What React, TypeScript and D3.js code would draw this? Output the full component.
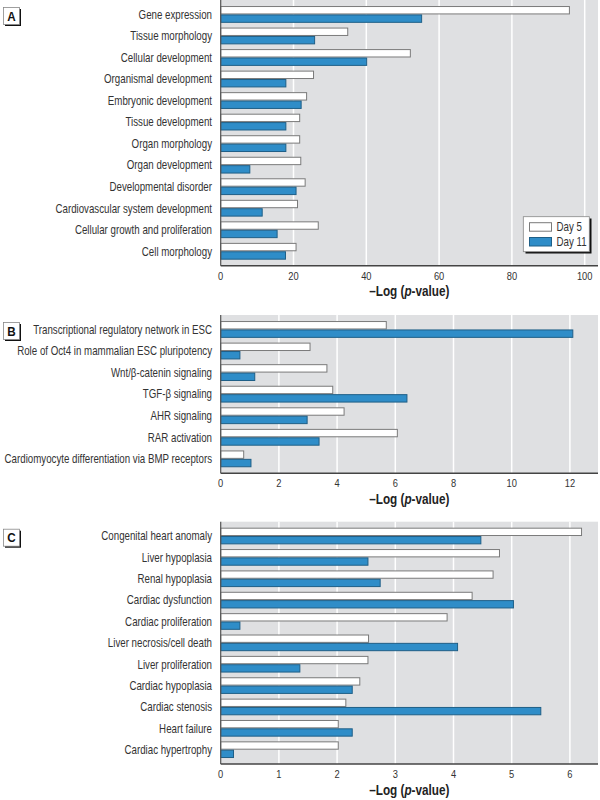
import React from "react";
import * as d3 from "d3";

const catsA = [
  "Gene expression",
  "Tissue morphology",
  "Cellular development",
  "Organismal development",
  "Embryonic development",
  "Tissue development",
  "Organ morphology",
  "Organ development",
  "Developmental disorder",
  "Cardiovascular system development",
  "Cellular growth and proliferation",
  "Cell morphology",
];
const day5A = [95.8, 34.9, 52.1, 25.5, 23.6, 21.7, 21.7, 22.0, 23.2, 21.1, 26.8, 20.7];
const day11A = [55.2, 25.8, 40.1, 17.9, 22.1, 17.9, 17.9, 8.0, 20.7, 11.4, 15.5, 17.8];
const ticksA = [0, 20, 40, 60, 80, 100];

const catsB = [
  "Transcriptional regulatory network in ESC",
  "Role of Oct4 in mammalian ESC pluripotency",
  "Wnt/β-catenin signaling",
  "TGF-β signaling",
  "AHR signaling",
  "RAR activation",
  "Cardiomyocyte differentiation via BMP receptors",
];
const day5B = [5.69, 3.07, 3.65, 3.85, 4.24, 6.07, 0.79];
const day11B = [12.1, 0.66, 1.17, 6.4, 2.97, 3.38, 1.04];
const ticksB = [0, 2, 4, 6, 8, 10, 12];

const catsC = [
  "Congenital heart anomaly",
  "Liver hypoplasia",
  "Renal hypoplasia",
  "Cardiac dysfunction",
  "Cardiac proliferation",
  "Liver necrosis/cell death",
  "Liver proliferation",
  "Cardiac hypoplasia",
  "Cardiac stenosis",
  "Heart failure",
  "Cardiac hypertrophy",
];
const day5C = [6.2, 4.79, 4.68, 4.32, 3.89, 2.54, 2.53, 2.39, 2.15, 2.02, 2.02];
const day11C = [4.47, 2.53, 2.74, 5.03, 0.33, 4.07, 1.36, 2.26, 5.5, 2.26, 0.22];
const ticksC = [0, 1, 2, 3, 4, 5, 6];

const seriesNames = ["Day 5", "Day 11"];

const FONT = "'Liberation Sans', Arial, sans-serif";
const TXT = "#333";
const BG = "#dfe0e2";
const BLUE = "#2f8dc8";
const BLUE_STROKE = "#1f5f87";
const WHITE_STROKE = "#7a7a7a";

const X0 = 220.7;
const X1 = 598;

type CTProps = {
  x: number;
  y: number;
  anchor?: "start" | "middle" | "end";
  size: number;
  sx?: number;
  weight?: string;
  fill?: string;
  dy?: string;
  children: React.ReactNode;
};

function CText({ x, y, anchor = "start", size, sx = 0.81, weight = "normal", fill = TXT, dy, children }: CTProps) {
  return (
    <text
      transform={`translate(${x},${y}) scale(${sx},1)`}
      textAnchor={anchor}
      dy={dy}
      fontSize={size}
      fontWeight={weight}
      fill={fill}
      fontFamily={FONT}
    >
      {children}
    </text>
  );
}

type PanelProps = {
  label: string;
  cats: string[];
  d5: number[];
  d11: number[];
  ticks: number[];
  tickStep: number;
  pxPerStep: number;
  top: number;
  bottom: number;
  legend?: boolean;
};

function Panel({ label, cats, d5, d11, ticks, tickStep, pxPerStep, top, bottom, legend }: PanelProps) {
  const unitPx = pxPerStep / tickStep;
  const domMax = (X1 - X0) / unitPx;
  const x = d3.scaleLinear().domain([0, domMax]).range([X0, X1]);
  const y = d3.scaleBand<string>().domain(cats).range([top, bottom]).paddingInner(0.22).paddingOuter(0.28);
  const inner = d3.scaleBand<string>().domain(seriesNames).range([0, y.bandwidth()]).padding(0);
  const bh = inner.bandwidth();
  return (
    <g>
      <rect x={X0} y={top} width={X1 - X0} height={bottom - top} fill={BG} />
      {ticks.filter((t) => t > 0).map((t) => (
        <line key={t} x1={x(t)} x2={x(t)} y1={top} y2={bottom} stroke="#fff" strokeWidth={1.5} />
      ))}
      {cats.map((c, i) => {
        const gy = y(c)!;
        return (
          <g key={c}>
            <rect
              x={x(0)}
              y={gy + inner("Day 5")! + 0.5}
              width={x(d5[i]) - x(0)}
              height={bh - 1}
              fill="#fff"
              stroke={WHITE_STROKE}
              strokeWidth={1}
            />
            <rect
              x={x(0)}
              y={gy + inner("Day 11")! + 0.5}
              width={x(d11[i]) - x(0)}
              height={bh - 1}
              fill={BLUE}
              stroke={BLUE_STROKE}
              strokeWidth={1}
            />
            <CText x={212} y={gy + y.bandwidth() / 2} dy="0.36em" anchor="end" size={12}>
              {c}
            </CText>
          </g>
        );
      })}
      <line x1={X0} x2={X0} y1={top} y2={bottom} stroke="#555" strokeWidth={1.2} />
      <line x1={X0} x2={X1} y1={bottom} y2={bottom} stroke="#444" strokeWidth={1.5} />
      {ticks.map((t) => (
        <CText key={t} x={x(t)} y={bottom + 14} anchor="middle" size={11.5}>
          {t}
        </CText>
      ))}
      <CText x={(X0 + X1) / 2} y={bottom + 30.5} anchor="middle" size={14} sx={0.84} weight="bold" fill="#222">
        –Log (<tspan fontStyle="italic">p</tspan>-value)
      </CText>
      <rect x={5} y={top + 9} width={16} height={17} fill="#111" />
      <rect x={3.5} y={top + 7.5} width={16} height={17} fill="#fff" stroke="#888" strokeWidth={0.8} />
      <CText x={11.5} y={top + 20.5} anchor="middle" size={13} sx={0.9} weight="bold" fill="#111">
        {label}
      </CText>
      {legend && (
        <g>
          <rect x={525.5} y={218.5} width={66} height={35} fill="#111" />
          <rect x={523.3} y={216.7} width={66} height={35} fill="#fff" stroke="#888" strokeWidth={0.8} />
          <rect x={529.5} y={222.7} width={22} height={8.5} fill="#fff" stroke={WHITE_STROKE} strokeWidth={1} />
          <rect x={529.5} y={237.5} width={22} height={8.5} fill={BLUE} stroke={BLUE_STROKE} strokeWidth={1} />
          <CText x={556.5} y={227} dy="0.36em" size={12}>
            {seriesNames[0]}
          </CText>
          <CText x={556.5} y={242} dy="0.36em" size={12}>
            {seriesNames[1]}
          </CText>
        </g>
      )}
    </g>
  );
}

export default function App() {
  return (
    <svg
      width={600}
      height={800}
      viewBox="0 0 600 800"
      style={{ position: "absolute", left: 0, top: 0, background: "#fff" }}
    >
      <rect width={600} height={800} fill="#fff" />
      <Panel label="A" cats={catsA} d5={day5A} d11={day11A} ticks={ticksA} tickStep={20} pxPerStep={72.8} top={0} bottom={265.7} legend />
      <Panel label="B" cats={catsB} d5={day5B} d11={day11B} ticks={ticksB} tickStep={2} pxPerStep={58.2} top={315} bottom={473.3} />
      <Panel label="C" cats={catsC} d5={day5C} d11={day11C} ticks={ticksC} tickStep={1} pxPerStep={58.2} top={521.7} bottom={764} />
    </svg>
  );
}
